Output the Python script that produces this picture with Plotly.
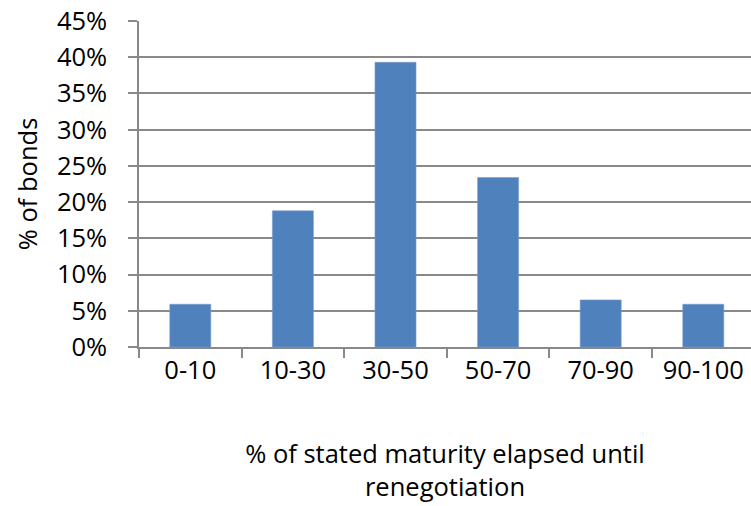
import plotly.graph_objects as go

# Share of bonds by how much of the stated maturity had elapsed at renegotiation
categories = ["0-10", "10-30", "30-50", "50-70", "70-90", "90-100"]
share_of_bonds = [0.059, 0.188, 0.393, 0.234, 0.065, 0.059]
y_ticks = [0, 0.05, 0.10, 0.15, 0.20, 0.25, 0.30, 0.35, 0.40, 0.45]
y_tick_labels = ["0%", "5%", "10%", "15%", "20%", "25%", "30%", "35%", "40%", "45%"]

FONT = "Open Sans"
FONT_SIZE = 25.5
AXIS_GRAY = "#898989"

fig = go.Figure(
    go.Bar(
        x=categories,
        y=share_of_bonds,
        width=0.4,
        marker=dict(color="#4F81BD", line=dict(color="#7A9DCC", width=0.6)),
        hoverinfo="x+y",
    )
)

fig.update_layout(
    width=751,
    height=506,
    margin=dict(l=139, r=0, t=21, b=159),
    paper_bgcolor="white",
    plot_bgcolor="white",
    showlegend=False,
    font=dict(family=FONT, size=FONT_SIZE, color="black"),
)

fig.update_xaxes(
    type="category",
    range=[-0.5, 5.465],
    showgrid=False,
    showline=True,
    linecolor=AXIS_GRAY,
    linewidth=1.5,
    ticks="outside",
    tickson="boundaries",
    ticklen=9,
    tickwidth=1.5,
    tickcolor=AXIS_GRAY,
    ticklabelstandoff=0,
    tickfont=dict(family=FONT, size=FONT_SIZE),
    title=dict(
        text="% of stated maturity elapsed until<br>renegotiation",
        font=dict(family=FONT, size=FONT_SIZE),
        standoff=60,
    ),
)

fig.update_yaxes(
    range=[0, 0.45],
    tickvals=y_ticks,
    ticktext=y_tick_labels,
    showgrid=True,
    gridcolor=AXIS_GRAY,
    gridwidth=1.5,
    zeroline=False,
    showline=True,
    linecolor=AXIS_GRAY,
    linewidth=1.5,
    ticks="outside",
    ticklen=9,
    tickwidth=1.5,
    tickcolor=AXIS_GRAY,
    ticklabelstandoff=16,
    tickfont=dict(family=FONT, size=FONT_SIZE),
    title=dict(text="% of bonds", font=dict(family=FONT, size=FONT_SIZE), standoff=12),
)

fig.write_html("out.html")
